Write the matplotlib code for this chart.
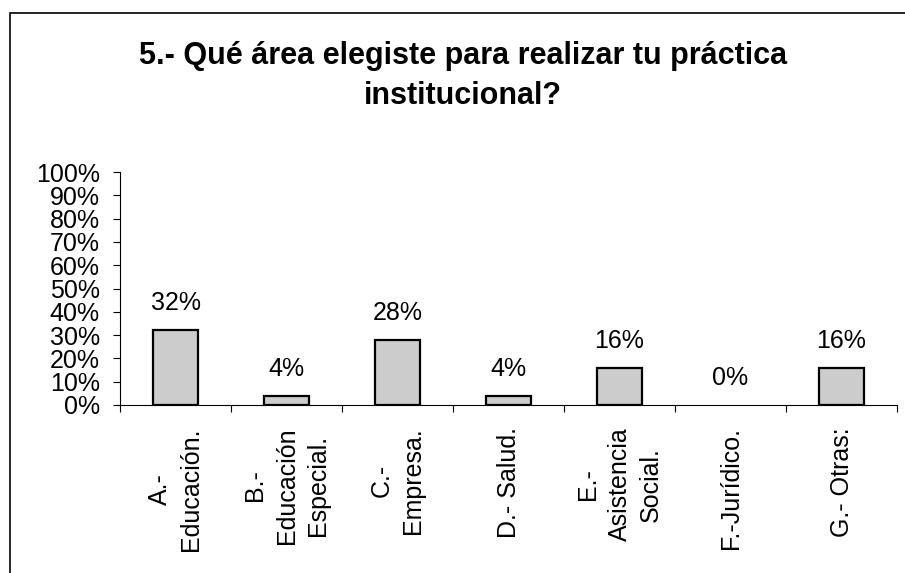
import numpy as np
import matplotlib.pyplot as plt
from matplotlib.patches import Rectangle

plt.rcParams['font.family'] = ['Liberation Sans', 'DejaVu Sans']

categories = ['A.-\nEducación.', 'B.-\nEducación\nEspecial.', 'C.-\nEmpresa.',
              'D.- Salud.', 'E.-\nAsistencia\nSocial.', 'F.-Jurídico.', 'G.- Otras:']
values = [0.32, 0.04, 0.28, 0.04, 0.16, 0.00, 0.16]
value_labels = ['32%', '4%', '28%', '4%', '16%', '0%', '16%']
y_ticks = np.arange(0, 1.01, 0.1)
y_tick_labels = [f'{int(round(t * 100))}%' for t in y_ticks]

W, H = 905, 573
fig = plt.figure(figsize=(W / 100, H / 100), dpi=100)
ax = fig.add_axes([120 / W, 1 - 405 / H, 777 / W, 233 / H])

# chart border (runs off the right and bottom edges)
fig.patches.append(Rectangle((10 / W, -0.1), 1.2, 1 - 13 / H + 0.1,
                             transform=fig.transFigure, fill=False,
                             edgecolor='black', linewidth=1.2))

x = np.arange(len(categories)) + 0.5
lws = [1.6 if v > 0 else 0 for v in values]
ax.bar(x, values, width=0.41, color='#cccccc', edgecolor='black', linewidth=lws)

for xi, v, lab in zip(x, values, value_labels):
    ax.annotate(lab, (xi, v), xytext=(0, 14.5), textcoords='offset points',
                ha='center', va='baseline', fontsize=18)

ax.set_xlim(0, len(categories))
ax.set_ylim(0, 1.0)
ax.set_yticks(y_ticks)
ax.set_yticklabels(y_tick_labels, fontsize=18)
ax.tick_params(axis='y', length=5, width=0.8, pad=9.5)

# category boundary ticks, labels centred between them
ax.set_xticks(np.arange(len(categories) + 1))
ax.set_xticklabels([])
ax.set_xticks(x, minor=True)
ax.set_xticklabels(categories, minor=True, rotation=90, fontsize=18,
                   ha='center', va='top', multialignment='center',
                   linespacing=1.4)
ax.tick_params(axis='x', which='major', length=5, width=0.8)
ax.tick_params(axis='x', which='minor', length=0, pad=16)

for s in ['top', 'right']:
    ax.spines[s].set_visible(False)
for s in ['left', 'bottom']:
    ax.spines[s].set_linewidth(0.8)

fig.text(463 / W, 1 - 76 / H, '5.- Qué área elegiste para realizar tu práctica\ninstitucional?',
         ha='center', va='center', fontsize=22, fontweight='bold', linespacing=1.4)

fig.savefig('out.png', dpi=100)
